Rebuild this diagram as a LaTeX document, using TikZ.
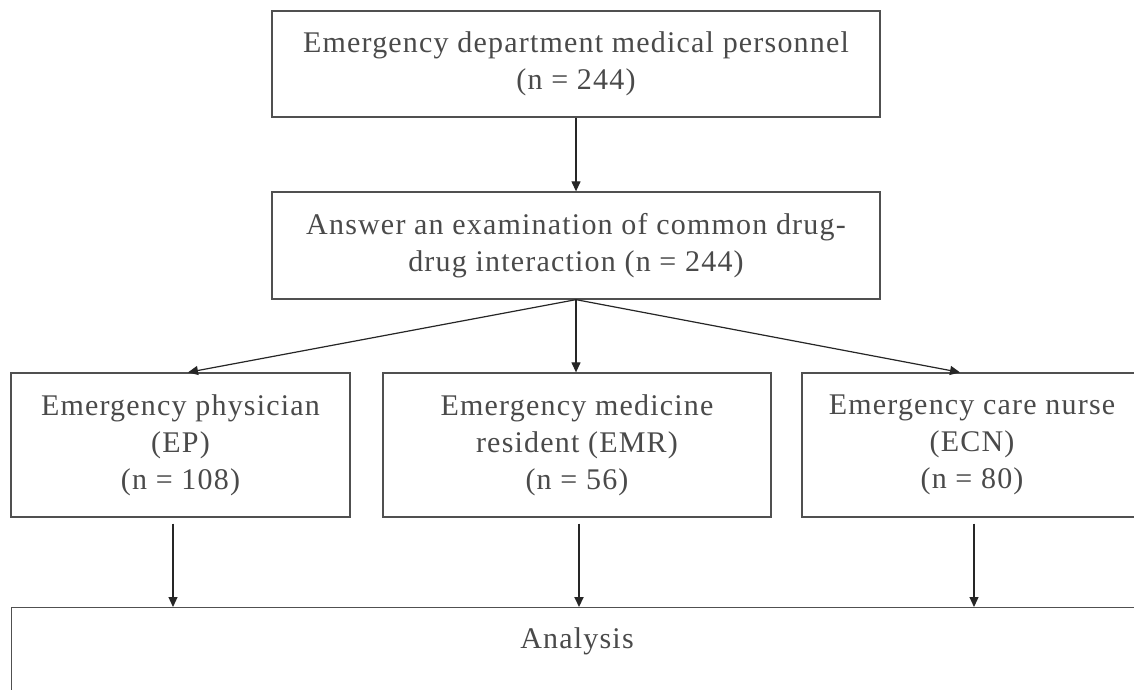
\documentclass[tikz,border=0pt]{standalone}
\usepackage{fontspec}
\setmainfont{Liberation Serif}
\usetikzlibrary{arrows.meta}
\definecolor{txt}{HTML}{4A4A4A}
\definecolor{ln}{HTML}{505050}
\tikzset{
  boxfont/.style={font=\fontsize{30}{37}\selectfont\addfontfeature{LetterSpace=4}},
  box/.style={draw=ln, line width=1.3pt, align=center, inner sep=0pt, text=txt, boxfont},
  conn/.style={draw=black!85, line width=1.2pt, -{Triangle[length=10pt,width=9pt]}},
  thick conn/.style={conn, line width=2pt}
}
\begin{document}
\begin{tikzpicture}[x=1pt,y=-1pt]
\clip (0,0) rectangle (1134,690);
\fill[white] (0,0) rectangle (1134,690);
\node[box, minimum width=608pt, minimum height=106pt] (top) at (576,64)
  {Emergency department medical personnel\\(n = 244)};
\node[box, minimum width=608pt, minimum height=107pt] (ans) at (576,245.5)
  {Answer an examination of common drug-\\drug interaction (n = 244)};
\node[box, minimum width=339pt, minimum height=144pt] (ep) at (180.5,445)
  {Emergency physician\\(EP)\\(n = 108)};
\node[box, minimum width=388pt, minimum height=144pt] (emr) at (577,445)
  {Emergency medicine\\resident (EMR)\\(n = 56)};
\node[box, minimum width=340pt, minimum height=144pt] (ecn) at (972,445)
  {Emergency care nurse\\(ECN)\\(n = 80)};
\node[box, minimum width=1140pt, minimum height=120pt, anchor=north west] (an) at (11,607) {};
\node[text=txt, boxfont, anchor=base] (antext) at (577,648) {Analysis};
\draw[conn] (top.south) -- (ans.north);
\draw[conn] (ans.south) -- (ep.north -| 188,0);
\draw[conn] (ans.south) -- (emr.north -| ans.south);
\draw[conn] (ans.south) -- (ecn.north -| 960,0);
\draw[conn] ([yshift=-6pt]ep.south -| 173,0) -- (an.north -| 173,0);
\draw[thick conn] ([yshift=-6pt]emr.south -| 579,0) -- (an.north -| 579,0);
\draw[conn] ([yshift=-6pt]ecn.south -| 974,0) -- (an.north -| 974,0);
\end{tikzpicture}
\end{document}
